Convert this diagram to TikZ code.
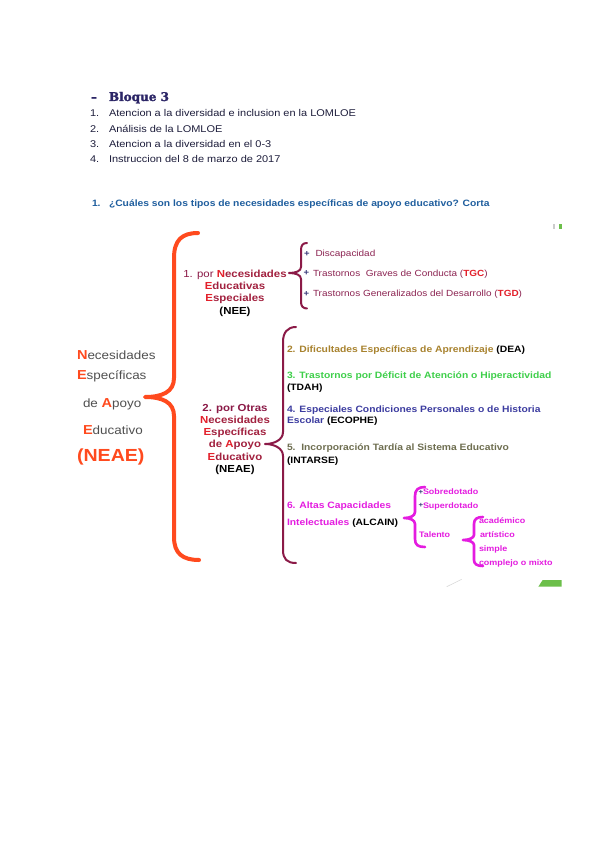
\documentclass[tikz,border=0pt]{standalone}
\usepackage{fontspec}
\usepackage{graphicx}
\setmainfont{Liberation Sans}
\newfontfamily\dg[FakeStretch=1.12]{Liberation Sans}
\newfontfamily\hdrfont[FakeBold=1.6]{DejaVu Serif}
\definecolor{hdrnavy}{HTML}{2B2566}
\definecolor{listc}{HTML}{1E1E3C}
\definecolor{qblue}{HTML}{1F5E9E}
\definecolor{neaeor}{HTML}{FF4A1E}
\definecolor{greyt}{HTML}{505050}
\definecolor{brmaroon}{HTML}{8B1A47}
\definecolor{crim}{HTML}{A2213F}
\definecolor{redini}{HTML}{E3202B}
\definecolor{itmaroon}{HTML}{8C2452}
\definecolor{olive}{HTML}{A8822E}
\definecolor{grn}{HTML}{3ECF4A}
\definecolor{indig}{HTML}{3C3CA0}
\definecolor{olgrey}{HTML}{6E6E50}
\definecolor{mag}{HTML}{E41CE0}
\definecolor{bulc}{HTML}{3A3A7A}
\definecolor{artgreen}{HTML}{6CBF4A}
\newcommand\initL[1]{{\bfseries\fontsize{13}{13}\selectfont\textcolor{neaeor}{#1}}}
\newcommand\rI[1]{\textcolor{redini}{#1}}
\newcommand\bk[1]{\textcolor{black}{\bfseries #1}}
\begin{document}
\begin{tikzpicture}[x=1pt,y=-1pt,
  every node/.style={inner sep=0pt,outer sep=0pt,anchor=base west},
  hdr/.style={font=\hdrfont\bfseries\fontsize{12}{12}\selectfont,text=hdrnavy},
  lst/.style={font=\dg\fontsize{9.8}{12}\selectfont,text=listc},
  qst/.style={font=\dg\bfseries\fontsize{9.2}{11}\selectfont,text=qblue},
  lft/.style={font=\dg\fontsize{12}{14}\selectfont,text=greyt},
  blk/.style={font=\dg\bfseries\fontsize{10.2}{12}\selectfont,text=crim,anchor=base},
  nee/.style={font=\dg\fontsize{8.9}{11}\selectfont,text=itmaroon},
  bul/.style={font=\dg\bfseries\fontsize{8.5}{8.5}\selectfont,text=bulc},
  itm/.style={font=\dg\bfseries\fontsize{9.2}{11}\selectfont},
  sm/.style={font=\dg\bfseries\fontsize{8}{10}\selectfont,text=mag},
  bigbrace/.style={draw=neaeor,line width=4pt,line cap=round,line join=round},
  mbrace/.style={draw=brmaroon,line width=2pt,line cap=round,line join=round},
  pbrace/.style={draw=mag,line width=2.6pt,line cap=round,line join=round}]
\useasboundingbox[fill=white] (0,0) rectangle (600,848);

% header and list
\node[hdr] (dash) at (91,101) {–};
\node[hdr] (bloque) at (109,101) {Bloque 3};
\node[lst] (n1) at (90,117) {1.};
\node[lst] (t1) at (109,117) {Atencion a la diversidad e inclusion en la LOMLOE};
\node[lst] (n2) at (90,132) {2.};
\node[lst] (t2) at (109,132) {Análisis de la LOMLOE};
\node[lst] (n3) at (90,147) {3.};
\node[lst] (t3) at (109,147) {Atencion a la diversidad en el 0-3};
\node[lst] (n4) at (90,162) {4.};
\node[lst] (t4) at (109,162) {Instruccion del 8 de marzo de 2017};

% question
\node[qst] (qn) at (92,206) {1.};
\node[qst] (qt) at (109,206) {¿Cuáles son los tipos de necesidades específicas de apoyo educativo? Corta};

% left block
\node[lft] (l1) at (77,359) {\initL{N}ecesidades};
\node[lft] (l2) at (77,379) {\initL{E}specíficas};
\node[lft] (l3) at (83,407) {de \initL{A}poyo};
\node[lft] (l4) at (83,434) {\initL{E}ducativo};
\node[font=\dg\bfseries\fontsize{17.5}{18}\selectfont,text=neaeor] (l5) at (77,461) {(NEAE)};

% big brace
\path[bigbrace] (198,233) .. controls (182,233) and (174,240) .. (174,258) -- (174,378)
  .. controls (174,392) and (162,397) .. (145,397)
  .. controls (162,397) and (174,402) .. (174,416) -- (174,537)
  .. controls (174,553) and (182,560) .. (199,560);

% NEE block
\node[blk] (a1) at (235,277) {\textcolor{brmaroon}{\mdseries 1. por }\rI{N}ecesidades};
\node[blk] (a2) at (235,289) {\rI{E}ducativas};
\node[blk] (a3) at (235,301) {\rI{E}speciales};
\node[blk,text=black] (a4) at (235,314) {(NEE)};

\path[mbrace] (307,243) .. controls (303,243) and (301,245) .. (301,250) -- (301,267)
  .. controls (301,271) and (296,273) .. (289,273)
  .. controls (296,273) and (301,275) .. (301,279) -- (301,302)
  .. controls (301,306) and (303,308.5) .. (307,308.5);

\node[bul] (b1) at (304,256) {+};
\node[nee] (e1) at (315.5,256.5) {Discapacidad};
\node[bul] (b2) at (303.5,275.5) {+};
\node[nee] (e2) at (313,276) {Trastornos\ \ Graves de Conducta (\rI{\bfseries TGC})};
\node[bul] (b3) at (303.5,296) {+};
\node[nee] (e3) at (313,296.5) {Trastornos Generalizados del Desarrollo (\rI{\bfseries TGD})};

% NEAE block
\node[blk,text=brmaroon] (c1) at (235,411) {2. por Otras};
\node[blk] (c2) at (235,423) {\rI{N}ecesidades};
\node[blk] (c3) at (235,435) {\rI{E}specíficas};
\node[blk] (c4) at (235,447.5) {de \rI{A}poyo};
\node[blk] (c5) at (235,460) {\rI{E}ducativo};
\node[blk,text=black] (c6) at (235,472) {(NEAE)};

\path[mbrace] (296,327) .. controls (287,327) and (283,333) .. (283,342) -- (283,432)
  .. controls (283,440) and (274,444) .. (265,444)
  .. controls (274,444) and (283,448) .. (283,456) -- (283,550)
  .. controls (283,559) and (287,563) .. (296,563);

\node[itm,text=olive] (d2) at (287,352.5) {2. Dificultades Específicas de Aprendizaje \bk{(DEA)}};
\node[itm,text=grn] (d3) at (287,378) {3. Trastornos por Déficit de Atención o Hiperactividad};
\node[itm,text=black] (d3b) at (287,390) {(TDAH)};
\node[itm,text=indig] (d4) at (287,412.5) {4. Especiales Condiciones Personales o de Historia};
\node[itm,text=indig] (d4b) at (287,423.5) {Escolar \bk{(ECOPHE)}};
\node[itm,text=olgrey] (d5) at (287,450.5) {5.\ \ Incorporación Tardía al Sistema Educativo};
\node[itm,text=black] (d5b) at (287,463.5) {(INTARSE)};
\node[itm,text=mag] (d6) at (287,508) {6. Altas Capacidades};
\node[itm,text=mag] (d6b) at (287,525) {Intelectuales \bk{(ALCAIN)}};

% ALCAIN brace
\path[pbrace] (425,487) .. controls (418,487) and (415,490) .. (415,496) -- (415,512)
  .. controls (415,516) and (410,518) .. (404,518)
  .. controls (410,518) and (415,520) .. (415,524) -- (415,539)
  .. controls (415,545) and (418,547) .. (425,547);

\node[bul,font=\dg\bfseries\fontsize{7}{7}\selectfont] (s0) at (418.5,494) {+};
\node[sm] (s1) at (423,494.5) {Sobredotado};
\node[bul,font=\dg\bfseries\fontsize{7}{7}\selectfont] (s0b) at (418.5,507.5) {+};
\node[sm] (s2) at (423,508) {Superdotado};
\node[sm] (s3) at (419,537) {Talento};

% talento brace
\path[pbrace] (483,517) .. controls (477,517) and (474,519) .. (474,524) -- (474,535)
  .. controls (474,538) and (469,540) .. (463,540)
  .. controls (469,540) and (474,542) .. (474,545) -- (474,560)
  .. controls (474,564) and (477,566) .. (483,566);

\node[sm] (g1) at (479,523) {académico};
\node[sm] (g2) at (480,537) {artístico};
\node[sm] (g3) at (479,551) {simple};
\node[sm] (g4) at (479,565) {complejo o mixto};

% image artefacts
\fill[gray!40] (553.3,224.3) rectangle (555.3,229);
\fill[artgreen] (559,224.3) rectangle (561.7,229);
\fill[artgreen] (542.7,580) -- (561.7,580) -- (561.7,586.7) -- (538.3,586.7) -- cycle;
\draw[gray!30,line width=0.6pt] (446.7,586.7) -- (461.7,579.3);
\end{tikzpicture}
\end{document}
